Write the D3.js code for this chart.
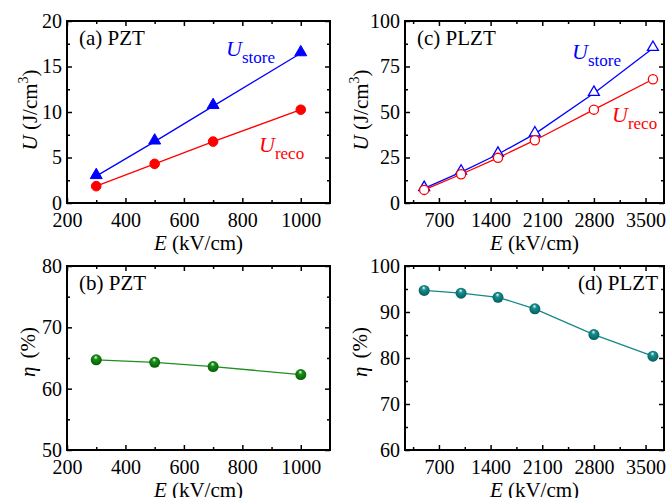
<!DOCTYPE html>
<html>
<head>
<meta charset="utf-8">
<script src="https://cdn.jsdelivr.net/npm/d3@7"></script>
<style>
  body { margin: 0; background: #fff; }
  svg { display: block; font-family: "Liberation Serif", "Times New Roman", serif; }
  .tick text { font-size: 20px; fill: #000; }
  .tick line { stroke: #000; stroke-width: 1.5; }
</style>
</head>
<body>
<div id="viz-container"></div>
<script>
// Data
const fieldPZT = [300, 500, 700, 1000];
const storePZT = [2.95, 6.75, 10.65, 16.45];
const recoPZT = [1.85, 4.3, 6.75, 10.25];
const etaPZT = [64.7, 64.3, 63.6, 62.3];

const fieldPLZT = [500, 1000, 1500, 2000, 2800, 3600];
const storePLZT = [8.0, 17.0, 26.8, 38.0, 60.3, 85.0];
const recoPLZT = [7.2, 15.8, 24.8, 34.5, 51.3, 68.0];
const etaPLZT = [94.7, 94.1, 93.2, 90.7, 85.1, 80.4];

// Tick labels
const xTicksPZT = [200, 400, 600, 800, 1000];
const xTicksPLZT = [700, 1400, 2100, 2800, 3500];
const uTicksPZT = [0, 5, 10, 15, 20];
const uTicksPLZT = [0, 25, 50, 75, 100];
const etaTicksPZT = [50, 60, 70, 80];
const etaTicksPLZT = [60, 70, 80, 90, 100];

const W = 669, H = 498;
const svg = d3.select('#viz-container').append('svg')
    .attr('width', W).attr('height', H);

const defs = svg.append('defs');

function sphereGradient(id, base, dark) {
    let g = defs.append('radialGradient').attr('id', id)
        .attr('cx', '50%').attr('cy', '45%').attr('r', '60%')
        .attr('fx', '45%').attr('fy', '25%');
    g.append('stop').attr('offset', '0%').attr('stop-color', '#ffffff');
    g.append('stop').attr('offset', '30%').attr('stop-color', base);
    g.append('stop').attr('offset', '100%').attr('stop-color', dark);
}
sphereGradient('ball-green', '#1a8f1a', '#005a00');
sphereGradient('ball-teal', '#1a9090', '#005858');

// midpoints between major ticks
function minorOf(ticks, lo, hi) {
    let step = ticks[1] - ticks[0];
    let out = [];
    for (let v = ticks[0] - step / 2; v < hi; v += step) {
        if (v > lo && v < hi) out.push(v);
    }
    return out;
}

const fmt = d3.format('d');

function drawPanel({box, xDomain, yDomain, xTicks, yTicks, label, labelAnchor = 'start',
                    yTitle, yTitleX, yTitleY}) {
    let x = d3.scaleLinear().domain(xDomain).range([box.left, box.right]);
    let y = d3.scaleLinear().domain(yDomain).range([box.bottom, box.top]);
    let g = svg.append('g');

    let xMinor = minorOf(xTicks, xDomain[0], xDomain[1]);
    let yMinor = minorOf(yTicks, yDomain[0], yDomain[1]);

    // bottom / left with labels
    g.append('g').attr('transform', 'translate(0,' + box.bottom + ')')
        .call(d3.axisBottom(x).tickValues(xTicks).tickFormat(fmt).tickSizeInner(-5).tickSizeOuter(0).tickPadding(10));
    g.append('g').attr('transform', 'translate(' + box.left + ',0)')
        .call(d3.axisLeft(y).tickValues(yTicks).tickFormat(fmt).tickSizeInner(-5).tickSizeOuter(0).tickPadding(5));
    // top / right, ticks only
    g.append('g').attr('transform', 'translate(0,' + box.top + ')')
        .call(d3.axisTop(x).tickValues(xTicks).tickSizeInner(-5).tickSizeOuter(0).tickFormat(''));
    g.append('g').attr('transform', 'translate(' + box.right + ',0)')
        .call(d3.axisRight(y).tickValues(yTicks).tickSizeInner(-5).tickSizeOuter(0).tickFormat(''));
    // minor ticks
    g.append('g').attr('transform', 'translate(0,' + box.bottom + ')')
        .call(d3.axisBottom(x).tickValues(xMinor).tickSizeInner(-3).tickSizeOuter(0).tickFormat(''));
    g.append('g').attr('transform', 'translate(0,' + box.top + ')')
        .call(d3.axisTop(x).tickValues(xMinor).tickSizeInner(-3).tickSizeOuter(0).tickFormat(''));
    g.append('g').attr('transform', 'translate(' + box.left + ',0)')
        .call(d3.axisLeft(y).tickValues(yMinor).tickSizeInner(-3).tickSizeOuter(0).tickFormat(''));
    g.append('g').attr('transform', 'translate(' + box.right + ',0)')
        .call(d3.axisRight(y).tickValues(yMinor).tickSizeInner(-3).tickSizeOuter(0).tickFormat(''));

    g.selectAll('.domain').remove();
    g.selectAll('g').attr('font-family', null).attr('font-size', null);

    g.append('rect')
        .attr('x', box.left).attr('y', box.top)
        .attr('width', box.right - box.left).attr('height', box.bottom - box.top)
        .attr('fill', 'none').attr('stroke', '#000').attr('stroke-width', 2);

    // panel label
    g.append('text')
        .attr('x', labelAnchor === 'start' ? box.left + 12 : box.right - 6)
        .attr('y', box.top + 24)
        .attr('text-anchor', labelAnchor)
        .attr('font-size', 21)
        .text(label);

    // x title
    let xt = g.append('text')
        .attr('x', (box.left + box.right) / 2)
        .attr('y', box.bottom + 47)
        .attr('text-anchor', 'middle')
        .attr('font-size', 21);
    xt.append('tspan').attr('font-style', 'italic').text('E');
    xt.append('tspan').text(' (kV/cm)');

    // y title
    let yt = g.append('text')
        .attr('transform', 'translate(' + yTitleX + ',' + yTitleY + ') rotate(-90)')
        .attr('text-anchor', 'middle')
        .attr('font-size', 21);
    yTitle(yt);

    return {x: x, y: y, g: g};
}

function uTitle(t) {
    t.append('tspan').attr('font-style', 'italic').text('U');
    t.append('tspan').text(' (J/cm');
    t.append('tspan').attr('font-size', 14).attr('dy', -9).text('3');
    t.append('tspan').attr('dy', 9).text(')');
}
function etaTitle(t) {
    t.append('tspan').attr('font-style', 'italic').text('η');
    t.append('tspan').attr('dx', 8).text('(%)');
}

function drawLine(p, xs, ys, color) {
    let line = d3.line().x((d, i) => p.x(xs[i])).y(d => p.y(d));
    p.g.append('path').datum(ys)
        .attr('d', line)
        .attr('fill', 'none').attr('stroke', color).attr('stroke-width', 1.3);
}

function drawTriangles(p, xs, ys, color, filled) {
    let sym = d3.symbol().type(d3.symbolTriangle).size(filled ? 62 : 52);
    p.g.selectAll(null).data(ys).enter().append('path')
        .attr('d', sym)
        .attr('transform', (d, i) => 'translate(' + p.x(xs[i]) + ',' + (p.y(d) - 1) + ')')
        .attr('fill', filled ? color : '#fff')
        .attr('stroke', color).attr('stroke-width', filled ? 1 : 1.3);
}

function drawCircles(p, xs, ys, color, filled) {
    p.g.selectAll(null).data(ys).enter().append('circle')
        .attr('cx', (d, i) => p.x(xs[i])).attr('cy', d => p.y(d))
        .attr('r', filled ? 4.8 : 4.6)
        .attr('fill', filled ? color : '#fff')
        .attr('stroke', color).attr('stroke-width', filled ? 1 : 1.3);
}

function drawBalls(p, xs, ys, grad) {
    p.g.selectAll(null).data(ys).enter().append('circle')
        .attr('cx', (d, i) => p.x(xs[i])).attr('cy', d => p.y(d))
        .attr('r', 5.5)
        .attr('fill', 'url(#' + grad + ')');
}

function legendU(p, xPos, yPos, sub, color) {
    let t = p.g.append('text').attr('x', xPos).attr('y', yPos).attr('fill', color);
    t.append('tspan').attr('font-style', 'italic').attr('font-size', 22).text('U');
    t.append('tspan').attr('font-size', 17).attr('dy', 7).text(sub);
}

// (a) PZT energy
let pa = drawPanel({
    box: {left: 67, right: 330, top: 21, bottom: 203},
    xDomain: [200, 1100], yDomain: [0, 20],
    xTicks: xTicksPZT, yTicks: uTicksPZT,
    label: '(a) PZT', yTitle: uTitle, yTitleX: 37, yTitleY: 110
});
drawLine(pa, fieldPZT, storePZT, '#0000ff');
drawLine(pa, fieldPZT, recoPZT, '#ff0000');
drawTriangles(pa, fieldPZT, storePZT, '#0000ff', true);
drawCircles(pa, fieldPZT, recoPZT, '#ff0000', true);
legendU(pa, 226, 56, 'store', '#0000ff');
legendU(pa, 259, 152, 'reco', '#ff0000');

// (c) PLZT energy
let pc = drawPanel({
    box: {left: 405, right: 664, top: 21, bottom: 203},
    xDomain: [240, 3750], yDomain: [0, 100],
    xTicks: xTicksPLZT, yTicks: uTicksPLZT,
    label: '(c) PLZT', yTitle: uTitle, yTitleX: 368, yTitleY: 110
});
drawLine(pc, fieldPLZT, storePLZT, '#0000ff');
drawLine(pc, fieldPLZT, recoPLZT, '#ff0000');
drawTriangles(pc, fieldPLZT, storePLZT, '#0000ff', false);
drawCircles(pc, fieldPLZT, recoPLZT, '#ff0000', false);
legendU(pc, 572, 59, 'store', '#0000ff');
legendU(pc, 612, 122, 'reco', '#ff0000');

// (b) PZT efficiency
let pb = drawPanel({
    box: {left: 67, right: 330, top: 266, bottom: 450},
    xDomain: [200, 1100], yDomain: [50, 80],
    xTicks: xTicksPZT, yTicks: etaTicksPZT,
    label: '(b) PZT', yTitle: etaTitle, yTitleX: 35, yTitleY: 352
});
drawLine(pb, fieldPZT, etaPZT, '#1f8f1f');
drawBalls(pb, fieldPZT, etaPZT, 'ball-green');

// (d) PLZT efficiency
let pd = drawPanel({
    box: {left: 405, right: 664, top: 266, bottom: 450},
    xDomain: [240, 3750], yDomain: [60, 100],
    xTicks: xTicksPLZT, yTicks: etaTicksPLZT,
    label: '(d) PLZT', labelAnchor: 'end', yTitle: etaTitle, yTitleX: 367, yTitleY: 352
});
drawLine(pd, fieldPLZT, etaPLZT, '#128a8a');
drawBalls(pd, fieldPLZT, etaPLZT, 'ball-teal');
</script>
</body>
</html>
